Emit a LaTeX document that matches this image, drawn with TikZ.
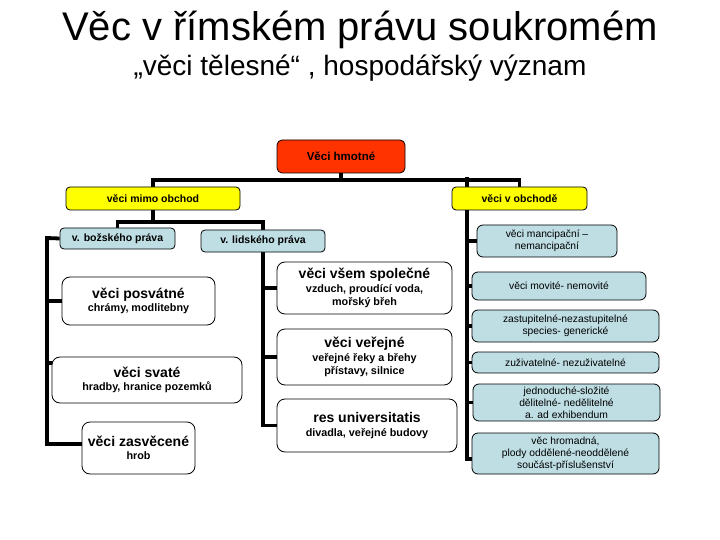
\documentclass[tikz,border=0pt]{standalone}
\usepackage{fontspec}
\setmainfont{Liberation Sans}
\usetikzlibrary{backgrounds}
\definecolor{rootred}{RGB}{255,51,0}
\definecolor{lblue}{RGB}{190,222,228}
\definecolor{yel}{RGB}{255,255,0}
\tikzset{
  box/.style={draw, line width=0.8pt, inner sep=1pt, align=center},
  rootbox/.style={box, fill=rootred, rounded corners=5pt, font=\fontsize{11.5}{13}\selectfont\bfseries},
  ybox/.style={box, fill=yel, rounded corners=4pt, font=\fontsize{10.5}{12}\selectfont\bfseries},
  gbox/.style={box, fill=lblue, rounded corners=4pt, font=\fontsize{10.5}{12}\selectfont\bfseries},
  wbox/.style={box, fill=white, rounded corners=8pt, font=\fontsize{10.8}{13.5}\selectfont\bfseries},
  bbox/.style={box, fill=lblue, rounded corners=6pt, font=\fontsize{10.3}{11.8}\selectfont},
  conn/.style={line width=3.8pt, line join=miter},
}
\newcommand{\hdline}[1]{{\fontsize{14}{16}\selectfont\bfseries #1}}
\begin{document}
\begin{tikzpicture}[x=1pt,y=-1pt]
\useasboundingbox (0,0) rectangle (720,540);
\node[anchor=base, inner sep=0pt] (title) at (360,41) {\fontsize{40}{46}\selectfont Věc v římském právu soukromém};
\node[anchor=base, inner sep=0pt] (subtitle) at (360,76) {\fontsize{28}{32}\selectfont „věci tělesné“ , hospodářský význam};

\node[rootbox, minimum width=128, minimum height=33] (root) at (341,156.5) {Věci hmotné};
\node[ybox, minimum width=174, minimum height=23] (mimo) at (153,198.5) {věci mimo obchod};
\node[ybox, minimum width=135, minimum height=23] (obch) at (519.5,198.5) {věci v obchodě};
\node[gbox, minimum width=115, minimum height=21] (bozs) at (117.5,238.5) {v. božského práva};
\node[gbox, minimum width=124, minimum height=22] (lids) at (263,241) {v. lidského práva};

\node[wbox, minimum width=153, minimum height=48] (posv) at (138.5,301) {\hdline{věci posvátné}\\chrámy, modlitebny};
\node[wbox, minimum width=190, minimum height=46] (svat) at (147,380) {\hdline{věci svaté}\\hradby, hranice pozemků};
\node[wbox, minimum width=113, minimum height=52] (zasv) at (138.5,448) {\hdline{věci zasvěcené}\\hrob};

\node[wbox, minimum width=175, minimum height=52] (spol) at (364.5,288) {\hdline{věci všem společné}\\vzduch, proudící voda,\\mořský břeh};
\node[wbox, minimum width=175, minimum height=56] (vere) at (364.5,357) {\hdline{věci veřejné}\\veřejné řeky a břehy\\přístavy, silnice};
\node[wbox, minimum width=180, minimum height=53] (univ) at (367,425.5) {\hdline{res universitatis}\\divadla, veřejné budovy};

\node[bbox, minimum width=140, minimum height=32] (manc) at (547,241) {věci mancipační –\\nemancipační};
\node[bbox, minimum width=174, minimum height=28] (movi) at (559,286) {věci movité- nemovité};
\node[bbox, minimum width=187, minimum height=32] (zast) at (565.5,326) {zastupitelné-nezastupitelné\\species- generické};
\node[bbox, minimum width=187, minimum height=21] (zuzi) at (565.5,362.5) {zuživatelné- nezuživatelné};
\node[bbox, minimum width=187, minimum height=37] (jedn) at (566.5,402.5) {jednoduché-složité\\dělitelné- nedělitelné\\a. ad exhibendum};
\node[bbox, minimum width=187, minimum height=41] (hrom) at (565.5,453.5) {věc hromadná,\\plody oddělené-neoddělené\\součást-příslušenství};

\coordinate (rtop) at (467,177);
\coordinate (rbot) at (467,459);
\coordinate (ltop) at (47,238);
\coordinate (lbot) at (47,444);

\begin{scope}[on background layer]
\draw[conn] (root.south) -- ++(0,7) -| (mimo.north);
\draw[conn] (root.south) -- ++(0,7) -| (obch.north);
\draw[conn] (mimo.south) -- ++(0,12) -| (bozs.north);
\draw[conn] (mimo.south) -- ++(0,12) -| (lids.north);
% left trunk
\draw[conn] (bozs.west) -- (ltop) -- (lbot) -- (lbot -| zasv.west) -- ++(8,0);
\draw[conn] (ltop |- posv.west) -- (posv.west);
\draw[conn] (ltop |- svat.north) ++(0,6) -- ++(8,0);
% middle trunk
\draw[conn] (lids.south) -- (lids.south |- univ.west) -- (univ.west);
\draw[conn] (lids.south |- spol.west) -- (spol.west);
\draw[conn] (lids.south |- vere.west) -- (vere.west);
% right trunk
\draw[conn] (rtop) -- (rbot) -- (rbot -| hrom.west);
\draw[conn] (rtop |- manc.west) -- (manc.west);
\draw[conn] (rtop |- movi.west) -- (movi.west);
\draw[conn] (rtop |- zast.west) -- (zast.west);
\draw[conn] (rtop |- zuzi.west) -- (zuzi.west);
\draw[conn] (rtop |- jedn.west) -- (jedn.west);
\end{scope}
\end{tikzpicture}
\end{document}
